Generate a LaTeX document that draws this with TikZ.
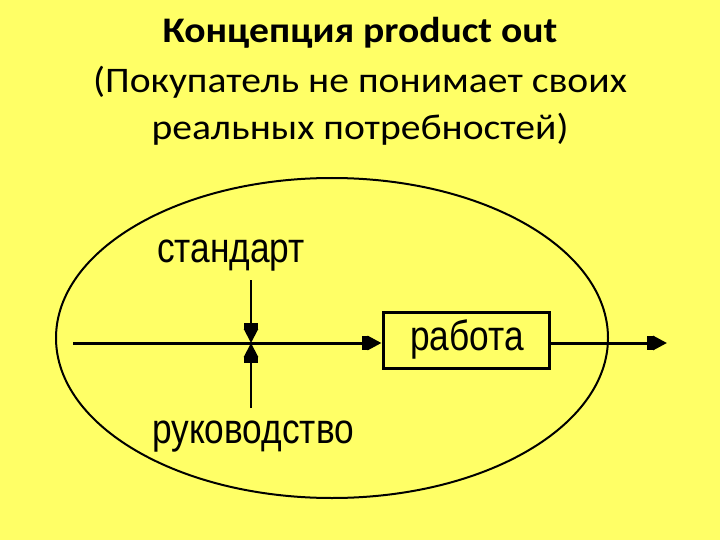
\documentclass[tikz,border=0pt]{standalone}
\usepackage{fontspec}
\setmainfont{Carlito}[FakeStretch=1.1]
\newfontfamily\narrowfont[FakeStretch=0.84]{Liberation Sans}
\usetikzlibrary{arrows.meta,shapes.geometric}
\definecolor{bgyellow}{RGB}{255,255,102}
\tikzset{
  ttl/.style={anchor=base, inner sep=0pt, font=\fontsize{36}{42}\selectfont},
  lbl/.style={anchor=base west, inner sep=0pt, font=\narrowfont\fontsize{42}{48}\selectfont},
  tipd/.style={-{Square[length=6pt,width=14pt,sep=0pt]Triangle[length=14pt,width=14pt]}},
  flow/.style={line width=3pt, tipd},
  ctrl/.style={line width=2pt, tipd},
}
\begin{document}
\begin{tikzpicture}[x=1pt,y=-1pt]
\fill[bgyellow] (0,0) rectangle (720,540);
\useasboundingbox (0,0) rectangle (720,540);
\node[ttl, font=\bfseries\fontsize{36}{42}\selectfont] (t1) at (360,43) {Концепция product out};
\node[ttl] (t2) at (360,93) {(Покупатель не понимает своих};
\node[ttl] (t3) at (360,140) {реальных потребностей)};
\node[draw, line width=2pt, ellipse, minimum width=552, minimum height=320, inner sep=0pt] (ell) at (332,338) {};
\node[draw, line width=3pt, minimum width=166, minimum height=56, inner sep=0pt] (rab) at (466,340) {};
\node[lbl] (lr) at (410,350) {работа};
\node[lbl] (ls) at (157,262) {стандарт};
\node[lbl] (lk) at (152,443) {руководство};
\coordinate (in) at (73,343);
\coordinate (j) at (251,343);
\coordinate (out) at (667,343);
\coordinate (ts) at (251,280);
\coordinate (bs) at (251,408);
\draw[flow] (in) -- (in -| rab.west);
\draw[flow] (rab.east |- out) -- (out);
\draw[ctrl] (ts) -- (j);
\draw[ctrl] (bs) -- (j);
\end{tikzpicture}
\end{document}
